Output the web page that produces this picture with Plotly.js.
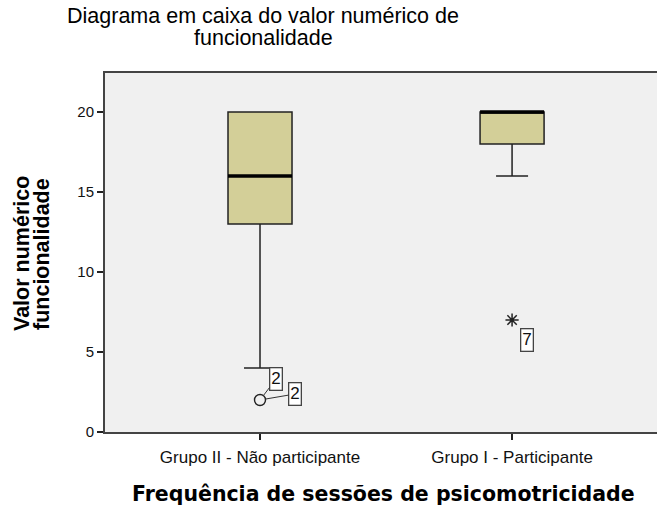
<!DOCTYPE html>
<html>
<head>
<meta charset="utf-8">
<script src="https://cdn.plot.ly/plotly-3.0.1.min.js"></script>
<style>html,body{margin:0;padding:0;background:#fff;}#chart{width:657px;height:506px;}</style>
</head>
<body>
<div id="chart"></div>
<script>
// Data
const categories = ["Grupo II - Não participante", "Grupo I - Participante"];
const q1 = [13, 18];
const median = [16, 20];
const q3 = [20, 20];
const lowerWhisker = [4, 16];
const upperWhisker = [20, 20];
const outlierCat = [0];
const outlierVal = [2];
const outlierLabels = ["2", "2"];
const extremeCat = [1];
const extremeVal = [7];
const extremeLabels = ["7"];
const yTicks = [0, 5, 10, 15, 20];
const titleLines = ["Diagrama em caixa do valor numérico de", "funcionalidade"];
const yTitleLines = ["Valor numérico", "funcionalidade"];
const xTitle = "Frequência de sessões de psicomotricidade";

const xs = categories.map((c, i) => i);
const boxW = 0.254;
const lineColor = "#222";
const fillColor = "#D3CF98";
const sans = "Liberation Sans, Arial, sans-serif";

const traces = [];
xs.forEach((x, i) => {
  traces.push({
    type: "box",
    x: [x],
    q1: [q1[i]], median: [median[i]], q3: [q3[i]],
    lowerfence: [lowerWhisker[i]], upperfence: [upperWhisker[i]],
    width: boxW,
    whiskerwidth: 0.5,
    fillcolor: fillColor,
    line: {color: lineColor, width: 1.5},
    boxpoints: false,
    hoverinfo: "skip",
    showlegend: false
  });
  traces.push({
    type: "scatter", mode: "lines",
    x: [x - boxW / 2, x + boxW / 2], y: [median[i], median[i]],
    line: {color: "#000", width: 3.5},
    hoverinfo: "skip", showlegend: false
  });
});
traces.push({
  type: "scatter", mode: "markers",
  x: outlierCat, y: outlierVal,
  marker: {symbol: "circle-open", size: 11, color: "#222", line: {width: 1.4}},
  hoverinfo: "skip", showlegend: false
});
traces.push({
  type: "scatter", mode: "markers",
  x: extremeCat, y: extremeVal,
  marker: {symbol: "asterisk-open", size: 11, color: "#222", line: {width: 1.5}},
  hoverinfo: "skip", showlegend: false
});

// plot area geometry (pixels) for placing titles in paper coords
const L = 105, T = 73, W = 552, H = 359;
const px = v => (v - L) / W;
const py = v => (T + H - v) / H;

const annFont = {family: sans, size: 17, color: "#111"};
const annotations = [];
const offs = [[16, -21], [35, -6]];
outlierLabels.forEach((lab, k) => {
  annotations.push({
    x: outlierCat[0], y: outlierVal[0], xref: "x", yref: "y",
    text: lab, showarrow: true, arrowhead: 0, arrowwidth: 1, arrowcolor: "#333",
    ax: offs[k][0], ay: offs[k][1], standoff: 5,
    bgcolor: "#fff", bordercolor: "#444", borderwidth: 1.3, borderpad: 1,
    font: annFont
  });
});
extremeLabels.forEach((lab, k) => {
  annotations.push({
    x: extremeCat[k], y: extremeVal[k], xref: "x", yref: "y",
    text: lab, showarrow: false, xshift: 15, yshift: -20,
    bgcolor: "#fff", bordercolor: "#444", borderwidth: 1.3, borderpad: 1,
    font: annFont
  });
});
// chart title, two lines
[16, 38].forEach((yy, k) => {
  annotations.push({
    xref: "paper", yref: "paper", x: px(263), y: py(yy),
    xanchor: "center", yanchor: "middle", showarrow: false,
    text: titleLines[k], font: {family: sans, size: 21.5, color: "#000"}
  });
});
// y-axis title, two lines
[22, 42].forEach((xx, k) => {
  annotations.push({
    xref: "paper", yref: "paper", x: px(xx), y: py(254),
    xanchor: "center", yanchor: "middle", showarrow: false, textangle: -90,
    text: "<b>" + yTitleLines[k] + "</b>", font: {family: sans, size: 21.5, color: "#000"}
  });
});
// x-axis title
annotations.push({
  xref: "paper", yref: "paper", x: px(383), y: py(494),
  xanchor: "center", yanchor: "middle", showarrow: false,
  text: "<b>" + xTitle + "</b>", font: {family: "DejaVu Sans, sans-serif", size: 20.5, color: "#000"}
});

const layout = {
  width: 657, height: 506,
  margin: {l: L, r: 657 - L - W, t: T, b: 506 - T - H},
  paper_bgcolor: "#fff",
  plot_bgcolor: "#F0F0F0",
  font: {family: sans, color: "#111", size: 13},
  xaxis: {
    range: [-0.615, 1.575],
    tickmode: "array", tickvals: xs, ticktext: categories,
    ticks: "outside", ticklen: 6, tickcolor: "#222", tickwidth: 1.5,
    ticklabelstandoff: 3,
    showline: true, linecolor: "#444", linewidth: 2, mirror: true,
    showgrid: false, zeroline: false,
    tickfont: {size: 17}
  },
  yaxis: {
    range: [0, 22.44],
    tickmode: "array", tickvals: yTicks,
    ticks: "outside", ticklen: 6, tickcolor: "#222", tickwidth: 1.5,
    showline: true, linecolor: "#444", linewidth: 2, mirror: true,
    showgrid: false, zeroline: false,
    tickfont: {size: 15}
  },
  annotations: annotations
};

Plotly.newPlot("chart", traces, layout, {staticPlot: true, displayModeBar: false});
</script>
</body>
</html>
